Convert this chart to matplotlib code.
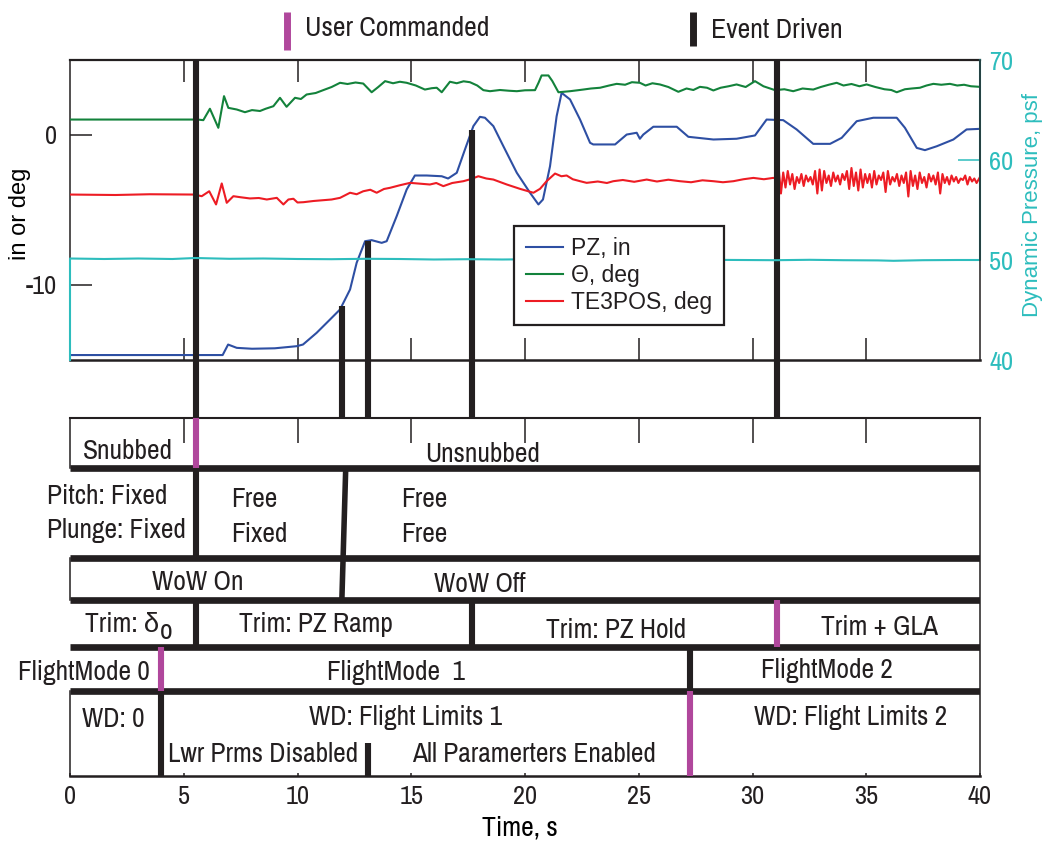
import matplotlib as mpl

mpl.use("Agg")
import matplotlib.pyplot as plt
import numpy as np
from matplotlib.lines import Line2D
from matplotlib.transforms import blended_transform_factory

FIG_W, FIG_H = 1050, 849

NARROW = ["Archivo Narrow", "Liberation Sans", "DejaVu Sans"]
PLAIN = ["Liberation Sans", "DejaVu Sans"]

INK = "#231f20"
USER = "#b0479c"
PZ_COLOR = "#2e4fa3"
THETA_COLOR = "#13823b"
TE3_COLOR = "#ed1c24"
Q_COLOR = "#2dbdbd"

# ---- time histories -------------------------------------------------------
PZ_T = [
    0.0, 6.71, 6.95, 7.33, 8.0, 9.0, 9.96, 10.24, 10.84, 11.43,
    11.87, 12.31, 12.6, 12.97, 13.26, 13.7, 13.92, 14.36, 14.8, 15.16,
    15.68, 16.34, 16.62, 17.0, 17.36, 17.73, 18.02, 18.24, 18.61, 19.05,
    19.64, 20.22, 20.59, 20.79, 21.1, 21.39, 21.61, 21.98, 22.42, 22.86,
    23.0, 23.96, 24.47, 24.91, 25.05, 25.2, 25.64, 26.67, 27.18, 28.28,
    29.3, 30.11, 30.62, 31.35, 31.94, 32.67, 33.41, 33.92, 34.58, 35.31,
    36.34, 36.7, 37.22, 37.58, 38.1, 38.83, 39.41, 40.0,
]
PZ_IN = [
    -14.67, -14.67, -13.97, -14.19, -14.25, -14.22, -14.08, -13.97, -13.19, -12.3,
    -11.63, -10.3, -8.52, -7.08, -7.01, -7.19, -7.08, -5.41, -3.63, -2.7,
    -2.7, -2.75, -2.9, -2.52, -0.97, 0.59, 1.21, 1.15, 0.59, -0.75,
    -2.52, -3.85, -4.63, -4.3, -2.08, 1.25, 2.81, 2.37, 1.03, -0.52,
    -0.63, -0.63, 0.03, 0.15, -0.25, 0.03, 0.55, 0.55, -0.12, -0.3,
    -0.25, -0.03, 1.03, 0.99, 0.37, -0.59, -0.59, -0.19, 0.92, 1.15,
    1.15, 0.48, -0.86, -1.01, -0.75, -0.3, 0.37, 0.41,
]

THETA_T = [
    0.0, 5.6, 5.86, 6.15, 6.52, 6.77, 6.96, 7.33, 7.69, 8.0,
    8.35, 8.6, 8.94, 9.23, 9.52, 9.89, 10.15, 10.4, 10.8, 11.13,
    11.5, 11.87, 12.2, 12.55, 12.89, 13.26, 13.55, 13.85, 14.2, 14.5,
    14.8, 15.2, 15.6, 15.9, 16.12, 16.34, 16.7, 17.0, 17.3, 17.58,
    17.9, 18.17, 18.46, 18.9, 19.3, 19.64, 20.0, 20.44, 20.6, 20.73,
    21.03, 21.2, 21.47, 21.98, 22.3, 22.56, 22.9, 23.3, 23.7, 24.03,
    24.4, 24.7, 25.05, 25.3, 25.6, 25.93, 26.3, 26.74, 27.1, 27.4,
    27.69, 28.0, 28.28, 28.6, 28.95, 29.3, 29.7, 30.11, 30.48, 30.99,
    31.4, 31.79, 32.2, 32.67, 33.0, 33.35, 33.7, 34.0, 34.35, 34.7,
    35.02, 35.4, 35.8, 36.1, 36.34, 36.7, 37.0, 37.36, 37.65, 37.95,
    38.3, 38.68, 39.0, 39.3, 39.6, 40.0,
]
THETA_DEG = [
    1.03, 1.03, 0.99, 1.75, 0.48, 2.59, 1.81, 1.70, 1.52, 1.66,
    1.60, 1.75, 1.92, 2.48, 1.88, 2.48, 2.40, 2.70, 2.80, 2.99,
    3.20, 3.48, 3.40, 3.50, 3.43, 2.85, 3.20, 3.59, 3.45, 3.55,
    3.48, 3.30, 3.03, 3.12, 3.15, 2.85, 3.55, 3.45, 3.58, 3.52,
    3.30, 2.99, 2.92, 3.00, 2.95, 2.92, 2.98, 2.99, 3.50, 3.97,
    3.97, 3.60, 2.85, 2.92, 2.98, 3.03, 3.10, 3.15, 3.30, 3.41,
    3.35, 3.52, 3.48, 3.30, 3.45, 3.37, 3.20, 2.88, 3.10, 3.00,
    3.21, 3.15, 2.97, 3.15, 3.25, 3.37, 3.20, 3.59, 3.25, 2.99,
    3.05, 2.92, 3.10, 3.03, 3.20, 3.35, 3.48, 3.30, 3.40, 3.25,
    3.37, 3.20, 3.05, 3.00, 2.85, 3.05, 3.10, 3.15, 3.30, 3.41,
    3.35, 3.41, 3.30, 3.35, 3.25, 3.21,
]

TE3_T = [
    0.0, 2.0, 3.5, 5.45, 5.79, 6.12, 6.42, 6.67, 6.89, 7.18,
    7.5, 7.91, 8.3, 8.65, 9.09, 9.38, 9.6, 9.82, 10.0, 10.26,
    10.7, 11.13, 11.5, 11.87, 12.31, 12.6, 12.89, 13.2, 13.48, 13.8,
    14.07, 14.5, 14.95, 15.4, 15.82, 16.1, 16.41, 16.8, 17.29, 17.6,
    17.95, 18.3, 18.61, 19.2, 19.78, 20.37, 20.66, 20.95, 21.32, 21.6,
    21.83, 22.1, 22.42, 22.71, 23.2, 23.6, 23.88, 24.3, 24.8, 25.35,
    25.8, 26.3, 26.81, 27.3, 27.8, 28.28, 28.7, 29.16, 29.6, 30.04,
    30.5, 30.91, 31.05,
    31.15, 31.25, 31.35, 31.45, 31.55, 31.65, 31.75, 31.85, 31.95, 32.05,
    32.15, 32.25, 32.35, 32.45, 32.55, 32.65, 32.75, 32.85, 32.95, 33.05,
    33.15, 33.25, 33.35, 33.45, 33.55, 33.65, 33.75, 33.85, 33.95, 34.05,
    34.15, 34.25, 34.35, 34.45, 34.55, 34.65, 34.75, 34.85, 34.95, 35.05,
    35.15, 35.25, 35.35, 35.45, 35.55, 35.65, 35.75, 35.85, 35.95, 36.05,
    36.15, 36.25, 36.35, 36.45, 36.55, 36.65, 36.75, 36.85, 36.95, 37.05,
    37.15, 37.25, 37.35, 37.45, 37.55, 37.65, 37.75, 37.85, 37.95, 38.05,
    38.15, 38.25, 38.35, 38.45, 38.55, 38.65, 38.75, 38.85, 38.95, 39.05,
    39.15, 39.25, 39.35, 39.45, 39.55, 39.65, 39.75, 39.85, 40.0,
]
TE3_DEG = [
    -3.97, -4.00, -3.95, -3.97, -4.08, -3.75, -4.63, -3.23, -4.52, -4.08,
    -4.15, -4.23, -4.20, -4.30, -4.19, -4.63, -4.30, -4.25, -4.50, -4.48,
    -4.40, -4.35, -4.30, -4.19, -3.85, -3.95, -3.75, -3.65, -3.85, -3.60,
    -3.52, -3.35, -3.19, -3.25, -3.30, -3.20, -3.41, -3.20, -3.08, -2.95,
    -2.75, -2.90, -2.97, -3.30, -3.59, -3.85, -3.59, -3.08, -2.57, -2.75,
    -2.70, -2.95, -3.08, -3.19, -3.10, -3.20, -3.08, -3.00, -3.12, -2.97,
    -3.10, -2.98, -3.08, -3.15, -3.02, -3.08, -3.15, -3.08, -2.95, -2.86,
    -2.95, -2.86, -2.90,
    -2.2, -3.9, -2.5, -3.5, -2.4, -3.3, -2.6, -3.6, -2.8, -3.2,
    -2.6, -3.4, -2.7, -3.1, -2.8, -3.3, -2.4, -3.9, -2.3, -3.7,
    -2.4, -3.2, -2.7, -3.4, -2.5, -3.1, -2.7, -3.3, -2.6, -3.0,
    -2.4, -3.6, -2.2, -3.4, -2.5, -3.7, -2.3, -3.5, -2.6, -3.2,
    -2.6, -3.5, -2.4, -3.3, -2.7, -3.0, -2.5, -3.8, -2.4, -3.3,
    -2.8, -3.1, -2.6, -3.4, -2.7, -3.2, -2.5, -4.1, -2.4, -3.4,
    -2.7, -3.6, -2.5, -3.2, -2.8, -3.5, -2.6, -3.1, -2.7, -3.3,
    -2.5, -3.9, -2.6, -3.2, -2.8, -3.3, -2.7, -3.1, -2.8, -3.2,
    -2.9, -3.0, -2.7, -3.3, -2.8, -3.1, -2.9, -3.2, -2.8,
]

Q_T = [
    0.0, 0.0, 1.5, 3.0, 4.5, 5.5, 7.0, 8.5, 10.0, 11.5,
    13.0, 14.5, 16.0, 17.5, 19.0, 20.5, 22.0, 23.5, 25.0, 26.5,
    28.0, 29.5, 31.0, 32.5, 34.0, 35.5, 36.2, 37.5, 39.0, 40.0, 40.0,
]
Q_PSF = [
    40.0, 50.15, 50.1, 50.15, 50.1, 50.2, 50.12, 50.15, 50.1, 50.08,
    50.12, 50.1, 50.05, 50.08, 50.05, 50.08, 50.05, 50.0, 50.05, 50.0,
    50.02, 50.0, 49.98, 50.02, 49.98, 49.96, 49.92, 49.98, 50.0, 50.0, 70.0,
]

# ---- mode transitions, s ----------------------------------------------------
EVENT_T = [5.55, 11.95, 13.10, 17.67, 31.08]     # bars in the time-history panel
EVENT_ON_PZ = [False, True, True, True, False]   # bar stops at the PZ trace
SNUB_T, SNUB_KIND = [5.55], ["user"]
PITCH_T, PITCH_KIND = [5.55], ["event"]
WOW_OFF_T = [12.12, 11.95]                       # leaning line through pitch + WoW rows
TRIM_T, TRIM_KIND = [5.55, 17.67, 31.08], ["event", "event", "user"]
MODE_T, MODE_KIND = [4.0, 27.25], ["user", "event"]
WD_T, WD_KIND = [4.0, 27.25], ["event", "user"]
PARAMS_ON_T = 13.10


def main() -> None:
    plt.rcParams.update(
        {
            "font.family": NARROW,
            "font.size": 19,
            "axes.unicode_minus": False,
            "axes.linewidth": 1.1,
            "axes.edgecolor": INK,
            "xtick.color": INK,
            "ytick.color": INK,
            "text.color": INK,
        }
    )
    fig = plt.figure(figsize=(FIG_W / 100, FIG_H / 100), dpi=100)

    def px_axes(x0, y0, x1, y1):
        return fig.add_axes([x0 / FIG_W, 1 - y1 / FIG_H, (x1 - x0) / FIG_W, (y1 - y0) / FIG_H])

    ax = px_axes(70, 60, 980, 360)
    axq = ax.twinx()
    ax_s = px_axes(70, 418, 980, 776)

    # ---- time histories
    ax.plot(PZ_T, PZ_IN, color=PZ_COLOR, lw=1.5, zorder=3)
    ax.plot(THETA_T, THETA_DEG, color=THETA_COLOR, lw=1.5, zorder=3)
    ax.plot(TE3_T, TE3_DEG, color=TE3_COLOR, lw=1.5, zorder=3)
    axq.plot(Q_T, Q_PSF, color=Q_COLOR, lw=1.5, clip_on=False)

    ax.set_xlim(0, 40)
    ax.set_ylim(-15, 5)
    axq.set_ylim(40, 70)
    ax.set_xticks(range(5, 40, 5))
    ax.set_yticks([0, -10])
    axq.set_yticks([40, 50, 60, 70])
    ax.tick_params(axis="x", direction="in", length=16, width=1.1, top=True, labelbottom=False)
    ax.tick_params(axis="y", direction="in", length=16, width=1.1, pad=9)
    axq.tick_params(axis="y", direction="in", length=16, width=1.1, colors=Q_COLOR, pad=6.5)
    for tick, val in zip(axq.yaxis.get_major_ticks(), axq.get_yticks()):
        if val in (40, 70):
            tick.tick2line.set_visible(False)

    ax.spines["top"].set_linewidth(1.6)
    ax.spines["bottom"].set_linewidth(1.8)
    ax.spines["right"].set_visible(False)
    for side in ("top", "bottom", "left"):
        axq.spines[side].set_visible(False)
    axq.spines["right"].set_color(INK)

    ax.set_ylabel("in or deg", family=PLAIN, fontsize=17)
    ax.yaxis.label.set(rotation_mode="default", va="center", ha="center")
    ax.yaxis.set_label_coords(-0.055, 0.487)
    axq.set_ylabel("Dynamic Pressure, psf", family=PLAIN, fontsize=16, color=Q_COLOR)
    axq.yaxis.label.set(rotation_mode="default", va="center", ha="center")
    axq.yaxis.set_label_coords(1.058, 0.517)

    handles = [
        Line2D([], [], color=PZ_COLOR, lw=1.5),
        Line2D([], [], color=THETA_COLOR, lw=1.5),
        Line2D([], [], color=TE3_COLOR, lw=1.5),
    ]
    leg = axq.legend(
        handles,
        ["PZ, in", "\u0398, deg", "TE3POS, deg"],
        loc="upper left",
        bbox_to_anchor=(0.488, 0.447),
        borderaxespad=0,
        fancybox=False,
        framealpha=1,
        edgecolor=INK,
        prop={"family": PLAIN, "size": 16.5},
        handlelength=1.65,
        handletextpad=0.35,
        labelspacing=0.16,
        borderpad=0.5,
    )
    leg.get_frame().set_linewidth(1.6)

    # event bars run from the traces down to the state table
    top_box = ax.get_position()
    low_box = ax_s.get_position()
    gap = (top_box.y0 - low_box.y1) / top_box.height
    trans = blended_transform_factory(ax.transData, ax.transAxes)
    y_lo, y_hi = ax.get_ylim()
    for t, on_pz in zip(EVENT_T, EVENT_ON_PZ):
        top = (np.interp(t, PZ_T, PZ_IN) - y_lo) / (y_hi - y_lo) if on_pz else 1.0
        ax.plot([t, t], [-gap, top], transform=trans, color=INK, lw=4.4,
                solid_capstyle="butt", clip_on=False, zorder=4)

    # ---- state table
    ax_s.set_xlim(0, 40)
    ax_s.set_ylim(0, 1)
    ax_s.set_yticks([])
    ax_s.set_xticks(range(0, 41, 5))
    ax_s.set_xticks([30, 35], minor=True)
    ax_s.tick_params(axis="x", which="major", direction="in", length=2, width=1.1, pad=6.5)
    ax_s.tick_params(axis="x", which="minor", direction="in", length=18, width=1.1)
    ax_s.spines["left"].set_visible(False)
    ax_s.spines["top"].set_visible(False)
    ax_s.spines["bottom"].set_linewidth(1.8)
    sec = ax_s.secondary_xaxis("top")
    sec.set_xticks(range(5, 40, 5))
    sec.tick_params(direction="in", length=18, width=1.1, labeltop=False)
    sec.spines["top"].set_linewidth(1.5)
    sec.spines["top"].set_color(INK)

    ax_s.set_xlabel("Time, s", fontsize=20)
    ax_s.xaxis.set_label_coords(0.4945, -0.110)

    rows = [1.0, 0.860, 0.609, 0.492, 0.360, 0.237, 0.0]
    for y in rows[1:-1]:
        ax_s.axhline(y, color=INK, lw=4.8, solid_capstyle="butt", zorder=2)
    for y0, y1 in ((rows[1], rows[0]), (rows[3], rows[2]), (rows[6], rows[5])):
        ax_s.plot([0, 0], [y0, y1], color=INK, lw=1.1, clip_on=False)

    def marks(times, kinds, y0, y1):
        for t, kind in zip(times, kinds):
            ax_s.plot([t, t], [y0, y1], color=USER if kind == "user" else INK,
                      lw=4.4, solid_capstyle="butt", zorder=3)

    marks(SNUB_T, SNUB_KIND, rows[1], rows[0])
    marks(PITCH_T, PITCH_KIND, rows[2], rows[1])
    marks(TRIM_T, TRIM_KIND, rows[4], rows[3])
    marks(MODE_T, MODE_KIND, rows[5], rows[4])
    marks(WD_T, WD_KIND, rows[6], rows[5])
    marks([PARAMS_ON_T], ["event"], rows[6], 0.092)
    ax_s.plot(WOW_OFF_T, [rows[1], rows[3]], color=INK, lw=4.0, solid_capstyle="butt", zorder=3)

    txt = dict(fontsize=19.8, va="baseline", clip_on=False)
    ax_s.text(0.57, 0.885, "Snubbed", ha="left", **txt)
    ax_s.text(18.15, 0.877, "Unsnubbed", ha="center", **txt)
    ax_s.text(-1.01, 0.760, "Pitch: Fixed", ha="left", **txt)
    ax_s.text(-1.01, 0.665, "Plunge: Fixed", ha="left", **txt)
    ax_s.text(7.08, 0.751, "Free", ha="left", **txt)
    ax_s.text(7.08, 0.654, "Fixed", ha="left", **txt)
    ax_s.text(14.55, 0.751, "Free", ha="left", **txt)
    ax_s.text(14.55, 0.654, "Free", ha="left", **txt)
    ax_s.text(5.63, 0.520, "WoW On", ha="center", **txt)
    ax_s.text(18.02, 0.515, "WoW Off", ha="center", **txt)
    trim0 = ax_s.text(0.66, 0.402, "Trim: \u03b4", ha="left", **txt)
    ax_s.annotate("o", xy=(1, 0), xycoords=trim0, xytext=(0.5, -1.5),
                  textcoords="offset points", fontsize=19.8, va="baseline", ha="left")
    ax_s.text(10.81, 0.402, "Trim: PZ Ramp", ha="center", **txt)
    ax_s.text(23.99, 0.385, "Trim: PZ Hold", ha="center", **txt)
    ax_s.text(35.58, 0.394, "Trim + GLA", ha="center", **txt)
    ax_s.text(-2.29, 0.268, "FlightMode 0", ha="left", **txt)
    ax_s.text(14.33, 0.268, "FlightMode  1", ha="center", **txt)
    ax_s.text(33.27, 0.274, "FlightMode 2", ha="center", **txt)
    ax_s.text(0.53, 0.138, "WD: 0", ha="left", **txt)
    ax_s.text(14.73, 0.142, "WD: Flight Limits 1", ha="center", **txt)
    ax_s.text(34.33, 0.142, "WD: Flight Limits 2", ha="center", **txt)
    ax_s.text(4.31, 0.038, "Lwr Prms Disabled", ha="left", **txt)
    ax_s.text(20.4, 0.039, "All Paramerters Enabled", ha="center", **txt)

    # ---- key for the two transition types
    for x, y1, color, label, base in ((287, 50, USER, "User Commanded", 36),
                                      (693, 46, INK, "Event Driven", 38)):
        fig.add_artist(Line2D([x / FIG_W] * 2, [1 - 12 / FIG_H, 1 - y1 / FIG_H],
                              transform=fig.transFigure, color=color, lw=5,
                              solid_capstyle="butt"))
        fig.text((x + 18) / FIG_W, 1 - base / FIG_H, label, fontsize=20, va="baseline")

    fig.savefig("out.png", dpi=100)


if __name__ == "__main__":
    main()
